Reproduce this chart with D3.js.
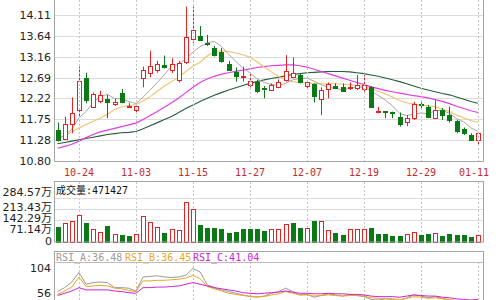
<!DOCTYPE html>
<html>
<head>
<meta charset="utf-8">
<script src="https://cdn.jsdelivr.net/npm/d3@7"></script>
<style>
body { margin: 0; background: #fff; }
svg { display: block; }
</style>
</head>
<body>
<svg width="500" height="300"></svg>
<script>
// daily candles, 60 trading days
var opens  = [11.50,11.31,11.64,11.96,12.69,12.02,12.17,12.21,12.09,12.34,12.02,11.96,12.68,12.80,12.88,12.97,12.88,12.64,13.03,13.56,
              13.63,13.48,13.37,13.26,13.00,12.81,12.70,12.52,12.60,12.45,12.41,12.48,12.64,12.71,12.75,12.50,12.54,12.20,12.43,12.50,
              12.48,12.45,12.45,12.43,12.48,11.91,11.93,11.90,11.80,11.68,11.77,12.09,12.03,11.78,11.96,11.84,11.71,11.53,11.40,11.28];
var closes = [11.28,11.65,11.88,12.61,12.18,12.32,12.30,12.14,12.14,12.13,12.05,12.05,12.86,12.95,13.01,12.93,13.01,13.03,13.60,13.76,
              13.54,13.45,13.20,13.05,12.86,12.73,12.73,12.61,12.39,12.43,12.52,12.60,12.85,12.80,12.58,12.58,12.26,12.41,12.54,12.46,
              12.39,12.47,12.52,12.52,12.03,11.93,11.91,11.88,11.64,11.78,12.09,12.06,11.80,11.96,11.84,11.73,11.49,11.43,11.28,11.44];
var highs  = [11.67,11.80,12.24,12.94,12.80,12.35,12.39,12.30,12.21,12.43,12.12,12.09,12.94,13.30,13.07,13.19,13.13,13.07,14.30,14.30,
              13.86,13.66,13.41,13.36,13.07,12.92,12.94,12.79,12.64,12.50,12.56,12.65,13.20,13.15,12.79,12.62,12.56,12.47,12.58,12.56,
              12.56,12.58,12.75,12.75,12.50,12.03,11.93,11.92,11.90,11.84,12.14,12.13,12.07,12.18,12.00,12.03,11.73,11.56,11.43,11.46];
var lows   = [11.24,11.28,11.43,11.80,12.11,12.00,12.11,11.77,12.05,12.11,12.00,11.88,12.47,12.70,12.80,12.90,12.79,12.58,13.00,13.47,
              13.52,13.41,13.17,13.03,12.85,12.60,12.60,12.47,12.34,12.22,12.39,12.45,12.60,12.68,12.56,12.45,12.13,11.84,12.22,12.43,
              12.37,12.41,12.41,12.37,12.02,11.88,11.77,11.77,11.58,11.59,11.73,11.96,11.77,11.77,11.73,11.67,11.43,11.39,11.26,11.16];

// moving average lines
var ma5  = [11.30,11.38,11.52,11.78,11.92,12.13,12.26,12.31,12.22,12.21,12.15,12.10,12.25,12.41,12.58,12.76,12.95,12.99,13.12,13.27,
            13.39,13.48,13.51,13.40,13.22,13.06,12.91,12.80,12.66,12.58,12.54,12.51,12.56,12.64,12.67,12.68,12.61,12.53,12.47,12.45,
            12.41,12.45,12.48,12.47,12.39,12.29,12.18,12.05,11.88,11.83,11.86,11.89,11.87,11.94,11.95,11.88,11.76,11.69,11.55,11.47];
var ma10 = [11.30,11.38,11.46,11.55,11.63,11.70,11.77,11.86,11.97,12.03,12.06,12.08,12.16,12.26,12.38,12.50,12.60,12.70,12.83,12.95,
            13.04,13.18,13.28,13.30,13.28,13.25,13.21,13.15,13.05,12.93,12.82,12.72,12.64,12.60,12.58,12.57,12.56,12.55,12.55,12.55,
            12.54,12.53,12.51,12.49,12.44,12.38,12.32,12.25,12.17,12.12,12.09,12.07,12.05,12.03,11.98,11.92,11.84,11.78,11.72,11.68];
var ma20 = [11.09,11.13,11.18,11.25,11.33,11.40,11.46,11.50,11.54,11.58,11.62,11.66,11.74,11.83,11.92,12.02,12.12,12.23,12.35,12.47,
            12.58,12.66,12.72,12.77,12.80,12.83,12.86,12.89,12.92,12.94,12.96,12.97,12.98,12.98,12.96,12.93,12.88,12.83,12.78,12.73,
            12.68,12.63,12.58,12.53,12.48,12.44,12.40,12.37,12.34,12.31,12.28,12.26,12.23,12.19,12.15,12.10,12.04,11.99,11.94,11.90];
var ma60 = [11.19,11.22,11.25,11.28,11.31,11.34,11.37,11.40,11.42,11.44,11.45,11.47,11.53,11.60,11.67,11.74,11.81,11.90,11.99,12.07,
            12.15,12.22,12.29,12.35,12.41,12.46,12.51,12.56,12.60,12.64,12.67,12.70,12.73,12.76,12.78,12.80,12.81,12.82,12.83,12.83,
            12.83,12.82,12.80,12.78,12.75,12.72,12.68,12.64,12.60,12.55,12.50,12.45,12.41,12.37,12.33,12.30,12.25,12.20,12.15,12.11];

// volume in 万 shares, 1 = up (red), 0 = down (green)
var vol   = [97,123,136,173,123,86,65,103,54,47,37,50,166,129,97,60,86,75,259,211,
             112,93,93,86,60,65,86,86,86,69,82,82,118,125,91,91,136,136,75,60,
             47,82,82,82,93,54,50,37,37,54,65,43,50,60,37,54,47,43,32,47.14];
var volUp = [0,1,1,1,0,1,1,0,1,0,0,1,1,1,1,0,1,1,1,1,
             0,0,0,0,0,0,0,0,0,0,1,1,1,0,0,1,0,1,1,0,
             0,1,1,1,0,0,0,0,0,1,1,0,0,1,0,0,0,0,0,1];

// RSI lines
var rsiA = [55,62,72,89,68,71,72,71,62,62,61,56,81,82,83,81,80,81,84,96,
            90,67,62,58,55,52,49,46,45,47,52,55,61,55,49,50,45,48,51,49,
            47,50,48,46,41,40,42,41,38,44,49,47,44,46,43,40,37,36,34,36.48];
var rsiB = [50,56,63,81,64,65,66,65,61,60,57,55,74,74,75,75,76,77,79,84,
            78,64,60,56,52,50,48,47,46,46,49,51,55,52,49,49,47,48,49,48,
            47,48,48,47,44,43,43,42,41,43,46,45,43,44,42,41,39,38,36,36.45];
var rsiC = [48,52,56,62,58,58,58,58,56,55,53,52,62,62,63,63,64,65,68,71,
            68,65,62,60,58,56,53,52,51,52,53,54,56,54,52,52,51,51,52,51,
            51,50,50,49,47,46,46,46,45,47,49,48,47,47,45,44,42,41,40,41.04];

var dateLabels = ["10-24","11-03","11-15","11-27","12-07","12-19","12-29","01-11"];
var dateIdx    = [3, 11, 19, 27, 35, 43, 51, 59];
var priceTicks = [10.80, 11.28, 11.75, 12.22, 12.69, 13.16, 13.64, 14.11];
var volTicks   = [0, 71.14, 142.29, 213.43, 284.57];
var volTitle   = "成交量:471427";
var rsiTicks   = [56, 104];
var rsiNames   = ["RSI_A:36.48", "RSI_B:36.45", "RSI_C:41.04"];

var svg = d3.select("svg");
var left = 54, right = 483;
var red = "#e02424", green = "#0b7a16";
var numFont = "DejaVu Sans, Noto Sans CJK SC, sans-serif";
var monoFont = "DejaVu Sans Mono, Noto Sans CJK SC, monospace";

var x = d3.scaleBand().domain(d3.range(closes.length)).range([left, 481.5]);
function cx(i) { return x(i) + x.bandwidth() / 2; }
var bw = 5;

var y = d3.scaleLinear().domain([10.80, 14.11]).range([161, 15]);
var yv = d3.scaleLinear().domain([0, 284.57]).range([242, 198]);
var yr = d3.scaleLinear().domain([56, 104]).range([291, 264]);

// ---------- price panel ----------
var g = svg.append("g");
g.selectAll(".hgrid").data(priceTicks.slice(1)).enter().append("line")
  .attr("x1", left).attr("x2", right)
  .attr("y1", function(d) { return Math.round(y(d)) + 0.5; })
  .attr("y2", function(d) { return Math.round(y(d)) + 0.5; })
  .attr("stroke", "#dcdcdc");

function vgrid(y0, y1) {
  svg.append("g").selectAll("line").data(dateIdx).enter().append("line")
    .attr("x1", function(d) { return Math.round(cx(d)) + 0.5; })
    .attr("x2", function(d) { return Math.round(cx(d)) + 0.5; })
    .attr("y1", y0).attr("y2", y1)
    .attr("stroke", "#c4c4c4").attr("stroke-dasharray", "2,2");
}
vgrid(0, 161);
vgrid(182, 242);
vgrid(262, 300);

g.selectAll(".ylab").data(priceTicks).enter().append("text")
  .attr("x", 51).attr("y", function(d) { return y(d); })
  .attr("dy", "0.36em").attr("text-anchor", "end")
  .attr("font-family", numFont).attr("font-size", 11).attr("fill", "#222")
  .text(function(d) { return d.toFixed(2); });

svg.append("g").selectAll("text").data(dateLabels).enter().append("text")
  .attr("x", function(d, i) { return cx(dateIdx[i]) - (i == dateLabels.length - 1 ? 4 : 0); })
  .attr("y", 172).attr("dy", "0.36em").attr("text-anchor", "middle")
  .attr("font-family", monoFont).attr("font-size", 10).attr("fill", "#c42a2a")
  .text(function(d) { return d; });

function maLine(arr, col, w) {
  var line = d3.line().x(function(d, i) { return cx(i); }).y(function(d) { return y(d); });
  g.append("path").attr("d", line(arr)).attr("fill", "none")
    .attr("stroke", col).attr("stroke-width", w);
}
maLine(ma60, "#245e3a", 1.1);
maLine(ma20, "#e03ee0", 1.2);
maLine(ma10, "#f0c26a", 1.1);
maLine(ma5, "#a8a8a8", 1);

var candle = g.selectAll(".candle").data(closes).enter().append("g");
candle.append("line")
  .attr("x1", function(d, i) { return Math.round(cx(i)) + 0.5; })
  .attr("x2", function(d, i) { return Math.round(cx(i)) + 0.5; })
  .attr("y1", function(d, i) { return y(highs[i]); })
  .attr("y2", function(d, i) { return y(lows[i]); })
  .attr("stroke", function(d, i) { return d >= opens[i] ? red : green; });
candle.append("rect")
  .attr("x", function(d, i) { return Math.round(cx(i)) - 2 + 0.5; })
  .attr("width", bw - 1)
  .attr("y", function(d, i) { return Math.round(y(Math.max(d, opens[i]))) + 0.5; })
  .attr("height", function(d, i) { return Math.max(1, Math.round(Math.abs(y(d) - y(opens[i])))); })
  .attr("fill", function(d, i) { return d >= opens[i] ? "#fff" : green; })
  .attr("stroke", function(d, i) { return d >= opens[i] ? red : green; });

g.append("path").attr("d", "M" + (left + 0.5) + ",0V" + 161.5 + "H" + (right + 0.5) + "V0")
  .attr("fill", "none").attr("stroke", "#a4a4a4");

// ---------- volume panel ----------
var gv = svg.append("g");
gv.selectAll("line").data(volTicks.slice(2)).enter().append("line")
  .attr("x1", left).attr("x2", right)
  .attr("y1", function(d) { return Math.round(yv(d)) + 0.5; })
  .attr("y2", function(d) { return Math.round(yv(d)) + 0.5; })
  .attr("stroke", "#dcdcdc");
gv.selectAll(".bar").data(vol).enter().append("rect")
  .attr("x", function(d, i) { return Math.round(cx(i)) - 2 + 0.5; })
  .attr("width", bw - 1)
  .attr("y", function(d) { return Math.round(yv(d)) + 0.5; })
  .attr("height", function(d) { return 242 - Math.round(yv(d)); })
  .attr("fill", function(d, i) { return volUp[i] ? "#fff" : green; })
  .attr("stroke", function(d, i) { return volUp[i] ? red : green; });
gv.append("rect").attr("x", left + 0.5).attr("y", 181.5).attr("width", right - left).attr("height", 60.5)
  .attr("fill", "none").attr("stroke", "#a4a4a4");
gv.selectAll(".vlab").data(volTicks).enter().append("text")
  .attr("x", 52).attr("y", function(d, i) { return yv(d) - [1, 2, 2, 2, 6][i]; })
  .attr("dy", "0.36em").attr("text-anchor", "end")
  .attr("font-family", numFont).attr("font-size", 11).attr("fill", "#222")
  .text(function(d) { return d == 0 ? "0" : d.toFixed(2) + "万"; });
gv.append("text").attr("x", 56).attr("y", 190).attr("dy", "0.36em")
  .attr("font-family", monoFont).attr("font-size", 10).attr("fill", "#111")
  .text(volTitle);

// ---------- RSI panel ----------
var gr = svg.append("g");
gr.append("rect").attr("x", left + 0.5).attr("y", 251.5).attr("width", right - left).attr("height", 60)
  .attr("fill", "none").attr("stroke", "#a4a4a4");
gr.append("line").attr("x1", left).attr("x2", right).attr("y1", 262.5).attr("y2", 262.5).attr("stroke", "#bcbcbc");
var rsiCols = ["#9a9a9a", "#e8a820", "#d020d0"];
[rsiA, rsiB, rsiC].forEach(function(arr, k) {
  var line = d3.line().x(function(d, i) { return cx(i); }).y(function(d) { return yr(d); });
  gr.append("path").attr("d", line(arr)).attr("fill", "none")
    .attr("stroke", rsiCols[k]).attr("stroke-width", 1);
});
gr.selectAll(".rl").data(rsiNames).enter().append("text")
  .attr("x", function(d, i) { return [56, 125, 193][i]; }).attr("y", 257.5).attr("dy", "0.36em")
  .attr("font-family", monoFont).attr("font-size", 10)
  .attr("fill", function(d, i) { return rsiCols[i]; })
  .text(function(d) { return d; });
gr.selectAll(".rlab").data(rsiTicks).enter().append("text")
  .attr("x", 51).attr("y", function(d, i) { return yr(d) + [2, 4][i]; })
  .attr("dy", "0.36em").attr("text-anchor", "end")
  .attr("font-family", numFont).attr("font-size", 11).attr("fill", "#222")
  .text(function(d) { return d; });
</script>
</body>
</html>
